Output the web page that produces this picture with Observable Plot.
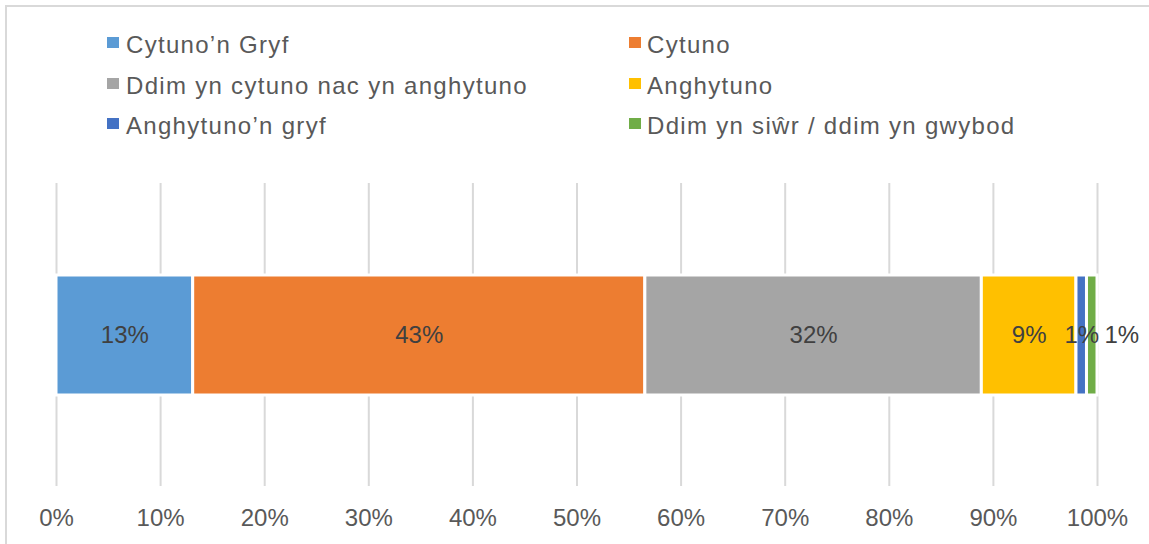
<!DOCTYPE html>
<html>
<head>
<meta charset="utf-8">
<script src="https://cdn.jsdelivr.net/npm/d3@7"></script>
<script src="https://cdn.jsdelivr.net/npm/@observablehq/plot@0.6"></script>
<style>
  html, body { margin: 0; padding: 0; background: #fff; }
  #wrap { position: relative; width: 1149px; height: 544px; overflow: hidden; font-family: "Liberation Sans", Arial, sans-serif; }
  #frame { position: absolute; left: 5px; top: 5px; right: -10px; bottom: -10px; border-left: 2px solid #d9d9d9; border-top: 2px solid #d9d9d9; }
  #legend { position: absolute; left: 0; top: 0; width: 1149px; height: 160px; }
  .item { position: absolute; font-size: 24px; color: #595959; white-space: nowrap; letter-spacing: 1.3px; line-height: 1; }
  .sw { position: absolute; width: 12px; height: 11px; }
  #chart { position: absolute; left: 0; top: 0; }
</style>
</head>
<body>
<div id="wrap">
  <div id="frame"></div>
  <div id="legend"></div>
  <div id="chart"></div>
</div>
<script>
const categories = [
  "Cytuno’n Gryf",
  "Cytuno",
  "Ddim yn cytuno nac yn anghytuno",
  "Anghytuno",
  "Anghytuno’n gryf",
  "Ddim yn siŵr / ddim yn gwybod"
];
const values = [13, 43, 32, 9, 1, 1];
const colors = ["#5B9BD5", "#ED7D31", "#A5A5A5", "#FFC000", "#4472C4", "#70AD47"];
const tickValues = [0, 10, 20, 30, 40, 50, 60, 70, 80, 90, 100];

// legend (HTML, two columns, three rows)
const legend = document.getElementById("legend");
categories.forEach((c, i) => {
  const col = i % 2, row = Math.floor(i / 2);
  const sx = col === 0 ? 107 : 629;
  const tx = col === 0 ? 126 : 647;
  const baseline = 52 + row * 40.5;
  const sw = document.createElement("div");
  sw.className = "sw";
  sw.style.left = sx + "px";
  sw.style.top = (baseline - 15) + "px";
  sw.style.background = colors[i];
  legend.appendChild(sw);
  const t = document.createElement("div");
  t.className = "item";
  t.textContent = c;
  t.style.left = tx + "px";
  t.style.top = (baseline - 19) + "px";
  legend.appendChild(t);
});

// 100% stacked: normalise the values to their total
const total = d3.sum(values);
const ends = d3.cumsum(values).map(v => v / total * 100);
const rows = categories.map((c, i) => {
  const share = values[i] / total * 100;
  return {
    cat: c,
    value: values[i],
    start: ends[i] - share,
    end: ends[i],
    mid: ends[i] - share / 2,
    last: i === categories.length - 1
  };
});

const chart = Plot.plot({
  width: 1149,
  height: 544,
  marginLeft: 56,
  marginRight: 52,
  marginTop: 183,
  marginBottom: 58,
  style: { fontFamily: "Liberation Sans, Arial, sans-serif", background: "transparent" },
  x: { domain: [0, 100] },
  color: { domain: categories, range: colors },
  marks: [
    Plot.gridX(tickValues, { stroke: "#d9d9d9", strokeOpacity: 1, strokeWidth: 2 }),
    Plot.barX(rows, {
      x1: "start", x2: "end", fill: "cat",
      stroke: "white", strokeWidth: 3,
      insetTop: 92, insetBottom: 91
    }),
    Plot.text(rows.filter(d => !d.last), {
      x: "mid", text: d => d.value + "%",
      fill: "#404040", fontSize: 24, frameAnchor: "middle"
    }),
    Plot.text(rows.filter(d => d.last), {
      x: "end", text: d => d.value + "%",
      fill: "#404040", fontSize: 24, textAnchor: "start", dx: 7, frameAnchor: "middle"
    }),
    Plot.axisX({
      ticks: tickValues, tickSize: 0, tickPadding: 22,
      tickFormat: d => d + "%", fontSize: 24, color: "#595959", fill: "#595959"
    })
  ]
});
document.getElementById("chart").appendChild(chart);
</script>
</body>
</html>
